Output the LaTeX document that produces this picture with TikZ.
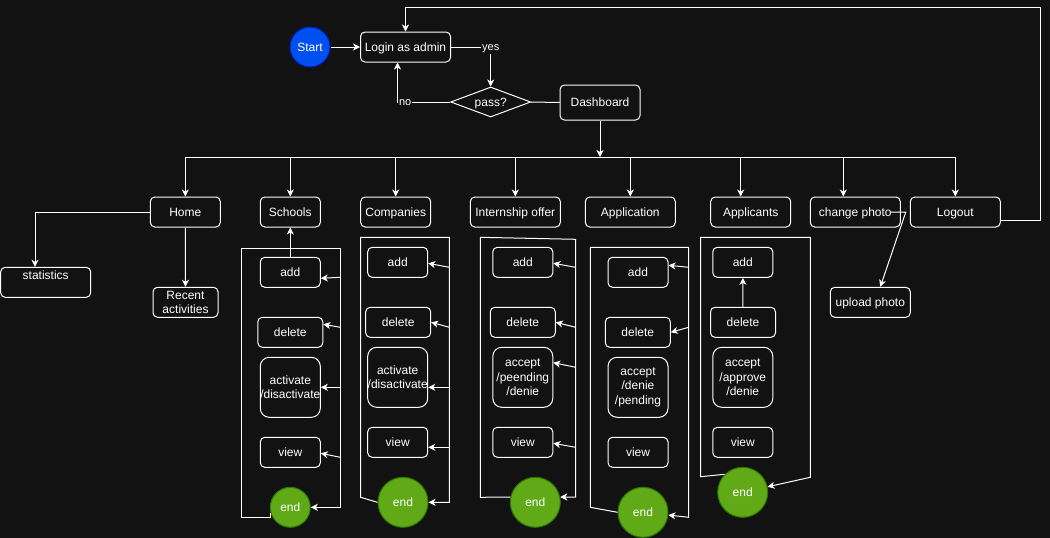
\documentclass[tikz,border=0pt]{standalone}
\usepackage{fontspec}
\setmainfont{Liberation Sans}
\usepackage{xcolor}
\definecolor{canvas}{HTML}{121212}
\definecolor{ink}{HTML}{FFFFFF}
\definecolor{go}{HTML}{0050EF}
\definecolor{goline}{HTML}{001DBC}
\definecolor{done}{HTML}{60A917}
\definecolor{doneline}{HTML}{2D7600}
\usepackage{tikz}
\usetikzlibrary{arrows.meta, positioning, calc, shapes.geometric}
\tikzset{
  >={Stealth[length=7pt, width=7pt, inset=2pt]},
  oneline/.style={text height=10.9pt, text depth=2.5pt},
  box/.style={draw=ink, fill=canvas, text=ink, rounded corners=4.5pt, align=center,
    font=\fontsize{12}{14.5}\selectfont, inner sep=0pt, line width=1pt},
  startdot/.style={circle, draw=goline, fill=go, text=ink, minimum size=40pt, inner sep=0pt,
    font=\fontsize{12}{14.5}\selectfont, line width=1pt, oneline},
  enddot/.style={circle, draw=doneline, fill=done, text=ink, minimum size=50pt, inner sep=0pt,
    font=\fontsize{12}{14.5}\selectfont, line width=1pt, oneline},
  test/.style={box, diamond, aspect=2.67, sharp corners, minimum width=80pt, minimum height=30pt, oneline},
  flow/.style={->, line width=1pt, color=ink},
  wire/.style={line width=1pt, color=ink},
  lbl/.style={fill=canvas, text=ink, font=\fontsize{11}{13}\selectfont, inner sep=1pt,
    text height=9.9pt, text depth=2.3pt},
}

\begin{document}
\begin{tikzpicture}[x=1pt, y=-1pt,
    act/.style={box, minimum width=60pt, minimum height=30pt, oneline},
    actw/.style={box, minimum width=65pt, minimum height=30pt, oneline},
    acttall/.style={box, rounded corners=9pt, minimum width=60pt, minimum height=60pt},
    menu/.style={box, minimum height=30pt, oneline}]

  \fill[canvas] (0,0) rectangle (1050,538);
  \useasboundingbox (0,0) rectangle (1050,538);

  % login
  \node[startdot] (start) at (310,47) {Start};
  \node[menu, minimum width=90pt] (login) at (405.5,47) {Login as admin};
  \node[test] (pass) at (490.7,102) {pass?};
  \node[menu, minimum width=80pt, minimum height=35pt] (dash) at (600,102.5) {Dashboard};

  \draw[flow] (start) -- (login);
  \draw[flow] (login) -| (pass) node[lbl, pos=0.5] {yes};
  \draw[flow] (pass) -| ([xshift=-8pt]login.south) node[lbl, pos=0.5, anchor=west] {no};
  \draw[wire] (pass) -- (dash);

  % menu row
  \coordinate (bus) at (600,157);
  \node[menu, minimum width=70pt] (home) at (185.3,212) {Home};
  \node[menu, minimum width=60pt] (schools) at (290.3,212) {Schools};
  \node[menu, minimum width=70pt] (companies) at (395.7,212) {Companies};
  \node[menu, minimum width=90pt] (offer) at (515.3,212) {Internship offer};
  \node[menu, minimum width=90pt] (applic) at (630.3,212) {Application};
  \node[menu, minimum width=80pt] (applicants) at (750.7,212) {Applicants};
  \node[menu, minimum width=90pt] (chphoto) at (855.3,212) {change photo};
  \node[menu, minimum width=90pt] (logout) at (955.3,212) {Logout};

  \draw[flow] (dash) -- (bus);
  \draw[wire] (bus -| home) -- (bus -| logout);
  \draw[flow] (bus -| home) -- (home);
  \draw[flow] (bus -| schools) -- (schools);
  \draw[flow] (bus -| companies) -- (companies);
  \draw[flow] (bus -| offer) -- (offer);
  \draw[flow] (bus -| applic) -- (applic);
  \draw[flow] ([xshift=-10pt]applicants.north |- bus) -- ([xshift=-10pt]applicants.north);
  \draw[flow] ([xshift=-12pt]chphoto.north |- bus) -- ([xshift=-12pt]chphoto.north);
  \draw[flow] (bus -| logout) -- (logout);

  % home
  \node[box, minimum width=90pt, minimum height=30pt] (stats) at (45.7,282.3) {statistics\\\mbox{}};
  \node[box, minimum width=65pt, minimum height=30pt] (recent) at (185.5,302.3) {Recent\\activities};
  \draw[flow] (home) -| ([xshift=-10.7pt]stats.north);
  \draw[flow] (home) -- (recent);

  % schools
  \node[act] (schAdd) at (290.3,272.3) {add};
  \node[actw] (schDel) at (290.3,332.3) {delete};
  \node[acttall] (schAct) at (290.3,387.3) {activate\\/disactivate};
  \node[act] (schView) at (290.3,452.3) {view};
  \node[enddot, minimum size=40pt] (schEnd) at (290.3,507.3) {end};
  \coordinate (schR) at (340.3,248);
  \draw[flow] (schEnd.197) |- (241,517) -- (241,248) -- (schR) |- (schEnd);
  \draw[flow] (schAdd) -- (schools);
  \draw[flow] ($(schR |- schAdd)+(0,5)$) -- ($(schAdd.east)+(0,6)$);
  \draw[flow] ($(schR |- schDel)+(0,-5)$) -- ($(schDel.east)+(0,-8)$);
  \draw[flow] (schR |- schAct) -- (schAct);
  \draw[flow] ($(schR |- schView)+(0,5)$) -- ($(schView.east)+(0,1)$);

  % companies
  \node[act] (comAdd) at (397.7,262.3) {add};
  \node[actw] (comDel) at (398.2,322.3) {delete};
  \node[acttall] (comAct) at (397.7,377.3) {activate\\/disactivate};
  \node[act] (comView) at (397.7,442.3) {view};
  \node[enddot] (comEnd) at (403,502.3) {end};
  \coordinate (comR) at (449.3,237.3);
  \draw[flow] (comEnd.west) -- (360.7,497.3) -- (360.7,237.3) -- (comR) |- (comEnd);
  \draw[flow] ($(comR |- comAdd)+(0,5)$) -- ($(comAdd.east)+(0,1)$);
  \draw[flow] ($(comR |- comDel)+(0,5)$) -- (comDel.east);
  \draw[flow] ($(comR |- comAct)+(0,10)$) -- ($(comAct.east)+(0,10)$);
  \draw[flow] ($(comR |- comView)+(0,5)$) -- ($(comView.east)+(0,5)$);

  % internship offer
  \node[act] (offAdd) at (522.8,262.3) {add};
  \node[actw] (offDel) at (522.8,322.3) {delete};
  \node[acttall] (offAcc) at (522.8,377.3) {accept\\/peending\\/denie};
  \node[act] (offView) at (522.8,442.3) {view};
  \node[enddot] (offEnd) at (535.3,502.3) {end};
  \coordinate (offR) at (575.7,239.3);
  \draw[flow] (offEnd.168) -- (480.3,497.3) -- (480.3,237.3) -- (offR) |- (offEnd.12);
  \draw[flow] ($(offR |- offAdd)+(0,5)$) -- ($(offAdd.east)+(0,1)$);
  \draw[flow] ($(offR |- offDel)+(0,5)$) -- (offDel.east);
  \draw[flow] ($(offR |- offAcc)+(0,-10)$) -- ($(offAcc.east)+(0,-14.6)$);
  \draw[flow] ($(offR |- offView)+(0,5)$) -- ($(offView.east)+(0,1)$);

  % application
  \node[act] (appAdd) at (638,272.3) {add};
  \node[actw] (appDel) at (637.8,332.3) {delete};
  \node[acttall] (appAcc) at (638,387.3) {accept\\/denie\\/pending};
  \node[act] (appView) at (638,452.3) {view};
  \node[enddot] (appEnd) at (643,512.3) {end};
  \coordinate (appR) at (688.7,247.3);
  \draw[flow] (appEnd.west) -- (590.3,507.3) -- (590.3,247.3) -- (appR) -- (688.7,517.3) -- (appEnd);
  \draw[flow] ($(appR |- appAdd)+(0,-5)$) -- ($(appAdd.east)+(0,-7)$);
  \draw[flow] ($(appR |- appDel)+(0,-5)$) -- (appDel.east);

  % applicants
  \node[act] (aptAdd) at (742.8,262.3) {add};
  \node[actw] (aptDel) at (743,322.3) {delete};
  \node[acttall] (aptAcc) at (742.8,377.3) {accept\\/approve\\/denie};
  \node[act] (aptView) at (742.8,442.3) {view};
  \node[enddot] (aptEnd) at (742.7,492.3) {end};
  \coordinate (aptR) at (810.3,237.3);
  \draw[flow] (aptEnd.135) -- (700.7,476.7) -- (700.7,237.3) -- (aptR) -- (810.3,477.3) -- (aptEnd);
  \draw[flow] (aptDel) -- (aptAdd);

  % photo and logout
  \node[menu, minimum width=80pt] (upload) at (870.3,302.3) {upload photo};
  \draw[flow] ([xshift=-10pt]chphoto.east) -- ++(15,0) -- ([xshift=10pt]upload.north);
  \coordinate (loopTop) at (1040,7);
  \draw[flow] ([yshift=-8pt]logout.east) -| (loopTop) -| (login.north);
\end{tikzpicture}
\end{document}
